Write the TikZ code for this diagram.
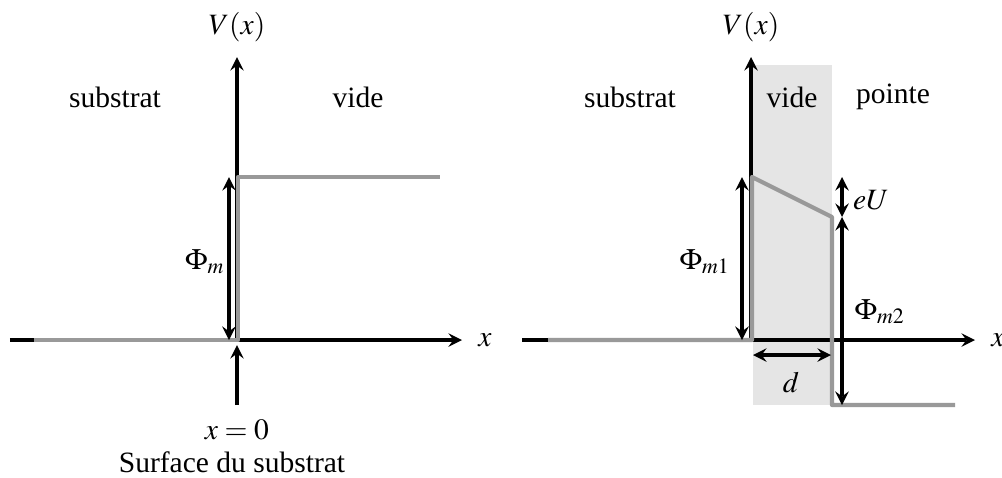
\documentclass[tikz,border=0pt]{standalone}
\usepackage{mathptmx}
\usepackage[no-math]{fontspec}
\setmainfont{Liberation Serif}
\usetikzlibrary{calc}

\begin{document}
\begin{tikzpicture}[scale=0.5,>=stealth,font=\fontsize{10.5}{12.5}\selectfont,line join=round,
    axe/.style={black,line width=1.1pt,->},
    pot/.style={gray!80,line width=1.5pt},
    cote/.style={black,line width=1.1pt,<->}]
        \useasboundingbox (-5.925,-3.425) rectangle (19.125,8.5);
        % surface seule
        \coordinate (O) at (0,0);
        \coordinate (Ox) at (5.625,0);
        \coordinate (Oy) at (0,7.075);
        \coordinate (S) at (0.025,0);
        \coordinate (T) at (0.025,4.075);
        \draw[axe] (-5.675,0) -- (Ox);
        \draw[axe] (O) -- (Oy);
        \draw[pot] (-5.075,0) -- (S) -- (T) -- (5.075,4.075);
        \draw[cote] (-0.2,0) -- (-0.2,4.075);
        \coordinate (Q) at (0,-1.625);
        \draw[->,line width=1.1pt] (Q) -- (0,-0.125);
        \node (Vg) at (0,7.825) {$V(x)$};
        \node (xg) at (6.2,0) {$x$};
        \node (subg) at (-3.05,6.075) {substrat};
        \node (videg) at (3.025,6.075) {vide};
        \node (phig) at (-0.8,1.95) {$\Phi_m$};
        \node (x0) at (0,-2.25) {$x=0$};
        \node (surf) at (-0.125,-3.05) {Surface du substrat};
        % avec la pointe
        \coordinate (R) at (12.85,0);
        \coordinate (Rx) at (18.45,0);
        \coordinate (Ry) at (12.85,7.075);
        \coordinate (A) at (12.875,0);
        \coordinate (B) at (12.875,4.075);
        \coordinate (C) at (14.875,3.075);
        \coordinate (D) at (14.875,-1.625);
        \fill[gray!20] (12.9,-1.625) rectangle (14.875,6.875);
        \draw[axe] (7.125,0) -- (Rx);
        \draw[axe] (R) -- (Ry);
        \draw[pot] (7.775,0) -- (A) -- (B) -- (C) -- (D) -- (17.95,-1.625);
        \draw[cote] (12.625,0) -- (12.625,4.075);
        \draw[cote] (15.125,4.075) -- (15.125,3.075);
        \draw[cote] (15.125,3.075) -- (15.125,-1.625);
        \draw[cote] (12.9,-0.375) -- (14.85,-0.375);
        \node (Vd) at (12.85,7.825) {$V(x)$};
        \node (xd) at (19.025,0) {$x$};
        \node (subd) at (9.825,6.075) {substrat};
        \node (vided) at (13.875,6.075) {vide};
        \node (pointe) at (16.4,6.075) {pointe};
        \node (phi1) at (11.7,1.95) {$\Phi_{m1}$};
        \node (eU) at (15.85,3.5) {$eU$};
        \node (phi2) at (16.075,0.7) {$\Phi_{m2}$};
        \node (d) at (13.85,-1.05) {$d$};
\end{tikzpicture}
\end{document}
